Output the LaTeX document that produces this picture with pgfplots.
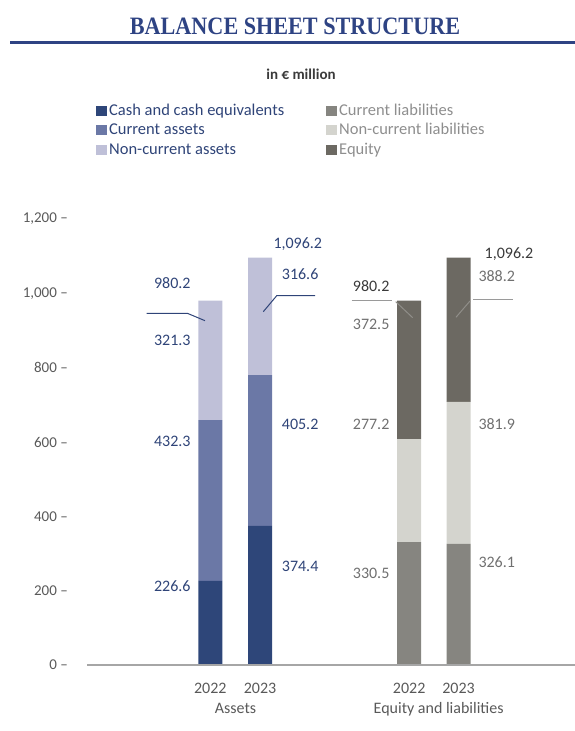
\documentclass[border=0pt]{standalone}
\usepackage{fontspec}
\setmainfont{Carlito}
\newfontfamily\titlefont[FakeStretch=0.887]{Liberation Serif}
\usepackage{pgfplots}
\pgfplotsset{compat=1.18}
\definecolor{cashc}{HTML}{2E4679}
\definecolor{curac}{HTML}{6B78A6}
\definecolor{ncurac}{HTML}{BFC0D8}
\definecolor{curlc}{HTML}{868580}
\definecolor{ncurlc}{HTML}{D4D4CE}
\definecolor{eqc}{HTML}{6C6962}
\definecolor{blueT}{HTML}{2F4478}
\definecolor{titleblue}{HTML}{2E4383}
\definecolor{grayT}{HTML}{707070}
\definecolor{darkT}{HTML}{3A3A3A}
\definecolor{axisT}{HTML}{595959}
\definecolor{legR}{HTML}{8E8E8E}
\definecolor{axisline}{HTML}{A6A6A6}
\definecolor{leadE}{HTML}{9A9A9A}
\definecolor{leadEd}{HTML}{908E89}
\tikzset{lab/.style={inner sep=0pt, text height=10.2bp, text depth=0pt, font=\fontsize{16bp}{19bp}\selectfont},
  legtxt/.style={anchor=base west, inner sep=0pt, font=\fontsize{16.5bp}{19bp}\selectfont}}
\begin{document}
\begin{tikzpicture}[x=1bp,y=1bp]
\useasboundingbox (0,0) rectangle (575,731);
% title
\node[anchor=base, inner sep=0pt, text=titleblue, font=\titlefont\bfseries\fontsize{25bp}{30bp}\selectfont] at (295,696) {BALANCE SHEET STRUCTURE};
\draw[titleblue, line width=2.5bp] (10,688.3) -- (575,688.3);
\node[anchor=base, inner sep=0pt, text=darkT, font=\bfseries\fontsize{15bp}{18bp}\selectfont] at (301,651) {in € million};
% legend
\fill[cashc]  (96,731-116.5) rectangle (106.5,731-106);
\fill[curac]  (96,731-135.5) rectangle (106.5,731-125);
\fill[ncurac] (96,731-155.5) rectangle (106.5,731-145);
\node[legtxt, text=blueT] at (109,731-116) {Cash and cash equivalents};
\node[legtxt, text=blueT] at (109,731-135) {Current assets};
\node[legtxt, text=blueT] at (109,731-155) {Non-current assets};
\fill[curlc]  (326,731-116.5) rectangle (336.5,731-106);
\fill[ncurlc] (326,731-135.5) rectangle (336.5,731-125);
\fill[eqc]    (326,731-155.5) rectangle (336.5,731-145);
\node[legtxt, text=legR] at (339,731-116) {Current liabilities};
\node[legtxt, text=legR] at (339,731-135) {Non-current liabilities};
\node[legtxt, text=legR] at (339,731-155) {Equity};
\begin{axis}[
  at={(87bp,66bp)}, anchor=south west,
  x=1bp, y=0.37167bp,
  xmin=87, xmax=575, ymin=0, ymax=1200,
  clip=false,
  axis line style={draw=none}, tick style={draw=none},
  ytick={0,200,400,600,800,1000,1200},
  yticklabels={0 –,200 –,400 –,600 –,800 –,{1,000 –},{1,200 –}},
  yticklabel style={anchor=east, inner sep=0pt, xshift=-19bp, text=axisT, font=\fontsize{15bp}{18bp}\selectfont},
  xtick={210.3,260,409.2,458.5},
  xticklabels={2022,2023,2022,2023},
  xticklabel style={anchor=base, inner sep=0pt, yshift=-28.3bp, text=axisT, font=\fontsize{16bp}{19bp}\selectfont},
  ybar stacked, bar width=24,
]
\addplot[fill=cashc, draw=none]  coordinates {(210.3,226.6) (260,374.4) (409.2,0) (458.5,0)};
\addplot[fill=curac, draw=none]  coordinates {(210.3,432.3) (260,405.2) (409.2,0) (458.5,0)};
\addplot[fill=ncurac, draw=none] coordinates {(210.3,321.3) (260,316.6) (409.2,0) (458.5,0)};
\addplot[fill=curlc, draw=none]  coordinates {(210.3,0) (260,0) (409.2,330.5) (458.5,326.1)};
\addplot[fill=ncurlc, draw=none] coordinates {(210.3,0) (260,0) (409.2,277.2) (458.5,381.9)};
\addplot[fill=eqc, draw=none]    coordinates {(210.3,0) (260,0) (409.2,372.5) (458.5,388.2)};
% anchor points for axis line and leader lines (drawn after the axis)
\coordinate (X0) at (axis cs:87,0);
\coordinate (X1) at (axis cs:575,0);
\coordinate (A1) at (axis cs:146.7,946.3);
\coordinate (A2) at (axis cs:187.3,946.3);
\coordinate (A3) at (axis cs:205,926.4);
\coordinate (B1) at (axis cs:263.3,950.6);
\coordinate (B2) at (axis cs:276.7,993.6);
\coordinate (B3) at (axis cs:315,993.6);
\coordinate (C1) at (axis cs:351.7,979.4);
\coordinate (C2) at (axis cs:391.7,979.4);
\coordinate (C3) at (axis cs:395.7,977.5);
\coordinate (C4) at (axis cs:412.7,934.4);
\coordinate (D1) at (axis cs:456,935.5);
\coordinate (D2) at (axis cs:470,979.4);
\coordinate (D3) at (axis cs:473.3,984.7);
\coordinate (D4) at (axis cs:513.3,984.7);
% value labels assets
\node[lab, anchor=east, text=blueT] at (axis cs:190.7,1027) {980.2};
\node[lab, anchor=east, text=blueT] at (axis cs:190.7,874.4) {321.3};
\node[lab, anchor=east, text=blueT] at (axis cs:190.7,602.7) {432.3};
\node[lab, anchor=east, text=blueT] at (axis cs:190.7,212.6) {226.6};
\node[lab, anchor=west, text=blueT] at (axis cs:273.3,1134.6) {1,096.2};
\node[lab, anchor=west, text=blueT] at (axis cs:281.7,1052) {316.6};
\node[lab, anchor=west, text=blueT] at (axis cs:281.7,648.4) {405.2};
\node[lab, anchor=west, text=blueT] at (axis cs:281.7,266.4) {374.4};
% value labels equity and liabilities
\node[lab, anchor=west, text=darkT] at (axis cs:352.7,1019.7) {980.2};
\node[lab, anchor=west, text=grayT] at (axis cs:352.7,916.7) {372.5};
\node[lab, anchor=west, text=grayT] at (axis cs:352.7,648.4) {277.2};
\node[lab, anchor=west, text=grayT] at (axis cs:352.7,247.5) {330.5};
\node[lab, anchor=west, text=darkT] at (axis cs:484.5,1108.5) {1,096.2};
\node[lab, anchor=west, text=grayT] at (axis cs:478.3,1044.8) {388.2};
\node[lab, anchor=west, text=grayT] at (axis cs:478.3,648.4) {381.9};
\node[lab, anchor=west, text=grayT] at (axis cs:478.3,277.1) {326.1};
% group labels
\node[anchor=base, inner sep=0pt, text=axisT, font=\fontsize{16bp}{19bp}\selectfont, yshift=-48.3bp] at (axis cs:235.6,0) {Assets};
\node[anchor=base, inner sep=0pt, text=axisT, font=\fontsize{16bp}{19bp}\selectfont, yshift=-48.3bp] at (axis cs:438.7,0) {Equity and liabilities};
\end{axis}
\draw[axisline, line width=1.8bp] (X0) -- (X1);
\draw[blueT, line width=1bp] (A1) -- (A2) -- (A3);
\draw[blueT, line width=1bp] (B1) -- (B2) -- (B3);
\draw[leadE, line width=1bp] (C1) -- (C2);
\draw[leadEd, line width=1bp] (C3) -- (C4);
\draw[leadEd, line width=1bp] (D1) -- (D2);
\draw[leadE, line width=1bp] (D3) -- (D4);
\end{tikzpicture}
\end{document}
